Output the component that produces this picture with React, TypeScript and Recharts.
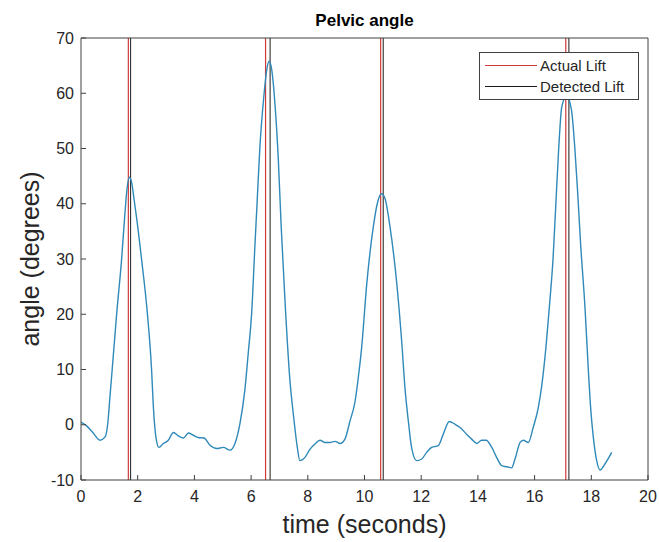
import { LineChart, Line, XAxis, YAxis, ReferenceLine } from 'recharts';

const timeSec = [
  0, 0.2, 0.43, 0.67, 0.85, 0.95, 1.02, 1.1, 1.26, 1.43, 1.55, 1.62, 1.7, 1.78, 1.88, 1.96,
  2.14, 2.34, 2.49, 2.55, 2.65, 2.75, 2.9, 3.08, 3.26, 3.43, 3.61, 3.79, 3.96, 4.14, 4.34,
  4.55, 4.79, 5.02, 5.26, 5.43, 5.61, 5.78, 5.9, 6.02, 6.14, 6.2, 6.31, 6.46, 6.55, 6.64,
  6.72, 6.84, 6.96, 7.06, 7.2, 7.37, 7.49, 7.63, 7.72, 7.9, 8.08, 8.25, 8.43, 8.61, 8.78,
  8.96, 9.14, 9.31, 9.49, 9.67, 9.78, 9.9, 10.08, 10.31, 10.45, 10.6, 10.72, 10.9, 11.14,
  11.31, 11.43, 11.55, 11.66, 11.84, 12.02, 12.19, 12.37, 12.6, 12.78, 12.99, 13.19, 13.37,
  13.6, 13.78, 13.96, 14.13, 14.29, 14.49, 14.66, 14.84, 15.02, 15.19, 15.31, 15.49, 15.6,
  15.78, 15.95, 16.13, 16.25, 16.4, 16.54, 16.65, 16.75, 16.85, 16.96, 17.13, 17.3, 17.42,
  17.52, 17.62, 17.78, 17.9, 17.97, 18.07, 18.19, 18.31, 18.48, 18.72,
];

const angleDeg = [
  0.5, -0.2, -1.5, -2.8, -2.2, 0.5, 5.0, 10, 20.2, 29.8, 38.3, 42.5, 44.8, 44.0, 40.5, 37.5,
  29.8, 20.2, 9.9, 3.5, -2.5, -4.1, -3.4, -2.8, -1.4, -2.0, -2.4, -1.5, -1.9, -2.3, -2.4,
  -3.7, -4.3, -4.1, -4.6, -3.4, 0.3, 6.3, 13, 20.2, 33, 39, 50.3, 60.0, 64.2, 65.8,
  64.5, 58.2, 48, 36, 22, 8.0, 1.9, -4.1, -6.5, -5.9, -4.4, -3.5, -2.8, -3.2, -3.2,
  -3.0, -3.4, -2.6, 0.7, 4.3, 8.5, 14, 25.5, 35.8, 40.0, 41.8, 41.0, 35.8, 25.5,
  15.2, 6.5, 0.5, -4.1, -6.5, -6.2, -5.0, -4.1, -3.8, -1.7, 0.6, 0.1, -0.5,
  -1.7, -2.6, -3.4, -2.8, -2.8, -4.1, -5.9, -7.4, -7.6, -7.8, -6.2, -3.2, -2.8,
  -3.2, -0.5, 3.1, 7.0, 14, 22.5, 30, 40, 50, 57.6, 59.5, 57, 50,
  42, 33, 21, 9.5, 3.5, -2.2, -6.5, -8.2, -7.1, -5.0,
];

const actualLift = [1.67, 6.51, 10.57, 17.1];
const detectedLift = [1.75, 6.67, 10.66, 17.21];

const xTicks = [0, 2, 4, 6, 8, 10, 12, 14, 16, 18, 20];
const yTicks = [-10, 0, 10, 20, 30, 40, 50, 60, 70];

const data = timeSec.map((t, i) => ({ t, angle: angleDeg[i] }));

const FONT = '"Liberation Sans", Arial, Helvetica, sans-serif';
const AXIS = '#404040';
const TEXT = '#262626';
const RED = '#d03a3a';
const BLACK = '#1a1a1a';
const BLUE = '#2f89b9';

function LiftLegend() {
  const rows = [
    { name: 'Actual Lift', color: RED },
    { name: 'Detected Lift', color: BLACK },
  ];
  return (
    <div
      style={{
        position: 'absolute',
        left: 479,
        top: 52,
        width: 153,
        border: `1px solid ${AXIS}`,
        background: '#fff',
        padding: '2px 0 2px 5px',
        fontFamily: FONT,
        fontSize: 15,
        color: TEXT,
      }}
    >
      {rows.map((r) => (
        <div key={r.name} style={{ display: 'flex', alignItems: 'center', height: 21 }}>
          <span style={{ display: 'inline-block', width: 52, height: 1, background: r.color, marginRight: 3 }} />
          <span>{r.name}</span>
        </div>
      ))}
    </div>
  );
}

export default function App() {
  return (
    <div
      style={{
        position: 'absolute',
        left: 0,
        top: 0,
        width: 659,
        height: 542,
        overflow: 'hidden',
        background: '#fff',
      }}
    >
      <div
        style={{
          position: 'absolute',
          left: 81,
          width: 567,
          top: 11,
          textAlign: 'center',
          fontFamily: FONT,
          fontWeight: 'bold',
          fontSize: 17,
          color: '#000',
        }}
      >
        Pelvic angle
      </div>
      <LineChart width={659} height={542} data={data} margin={{ top: 37, right: 10, bottom: 0, left: 0 }}>
        <XAxis
          dataKey="t"
          type="number"
          domain={[0, 20]}
          ticks={xTicks}
          allowDataOverflow
          height={62}
          stroke={AXIS}
          tickSize={-5}
          tickMargin={16}
          tick={{ fill: TEXT, fontSize: 16, fontFamily: FONT }}
          label={{
            value: 'time (seconds)',
            position: 'insideBottom',
            offset: 9,
            fill: TEXT,
            fontSize: 25,
            fontFamily: FONT,
          }}
        />
        <XAxis
          xAxisId="top"
          orientation="top"
          dataKey="t"
          type="number"
          domain={[0, 20]}
          ticks={xTicks}
          height={1}
          stroke={AXIS}
          tickSize={-5}
          tick={false}
        />
        <YAxis
          type="number"
          domain={[-10, 70]}
          ticks={yTicks}
          width={81}
          stroke={AXIS}
          tickSize={-5}
          tickMargin={12}
          tick={{ fill: TEXT, fontSize: 16, fontFamily: FONT }}
          label={{
            value: 'angle (degrees)',
            angle: -90,
            position: 'insideLeft',
            offset: 30,
            style: { textAnchor: 'middle' },
            fill: TEXT,
            fontSize: 25,
            fontFamily: FONT,
          }}
        />
        <YAxis
          yAxisId="right"
          orientation="right"
          type="number"
          domain={[-10, 70]}
          ticks={yTicks}
          width={1}
          stroke={AXIS}
          tickSize={-5}
          tick={false}
        />
        {actualLift.map((x) => (
          <ReferenceLine key={`a${x}`} x={x} stroke={RED} strokeWidth={1.2} />
        ))}
        {detectedLift.map((x) => (
          <ReferenceLine key={`d${x}`} x={x} stroke={BLACK} strokeWidth={1} />
        ))}
        <Line
          type="monotone"
          dataKey="angle"
          stroke={BLUE}
          strokeWidth={1.4}
          dot={false}
          isAnimationActive={false}
        />
      </LineChart>
      <LiftLegend />
    </div>
  );
}
